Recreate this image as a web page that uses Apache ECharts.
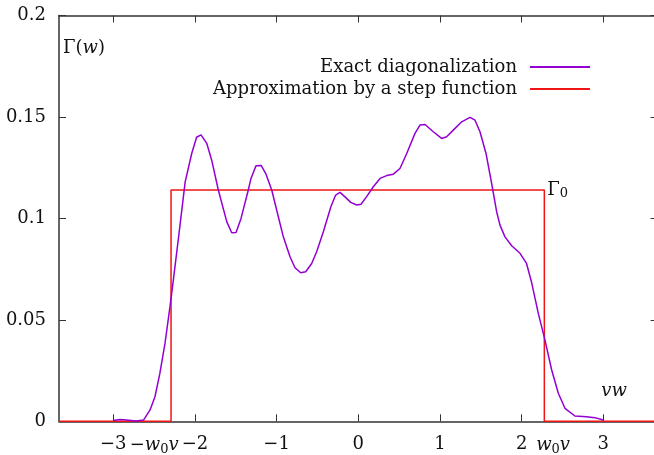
<!DOCTYPE html>
<html>
<head>
<meta charset="utf-8">
<script src="https://cdn.jsdelivr.net/npm/echarts@6/dist/echarts.min.js"></script>
<style>
html,body{margin:0;padding:0;background:#fff;}
#chart{width:654px;height:455px;}
</style>
</head>
<body>
<div id="chart"></div>
<script>
// ---- data ----
const exactX = [-3.00,-2.92,-2.84,-2.72,-2.63,-2.55,-2.49,-2.43,-2.367,-2.306,-2.265,-2.20,-2.12,-2.04,-1.98,-1.926,-1.856,-1.795,-1.714,-1.61,-1.55,-1.497,-1.436,-1.347,-1.314,-1.253,-1.19,-1.13,-1.06,-0.999,-0.918,-0.836,-0.775,-0.705,-0.644,-0.571,-0.51,-0.428,-0.334,-0.277,-0.224,-0.163,-0.093,-0.02,0.033,0.10,0.184,0.266,0.348,0.429,0.51,0.593,0.694,0.755,0.817,0.918,1.02,1.082,1.163,1.266,1.368,1.429,1.49,1.564,1.633,1.694,1.735,1.796,1.878,1.98,2.06,2.12,2.204,2.286,2.368,2.449,2.531,2.653,2.796,2.898,3.00];
const exactY = [0.0004,0.0009,0.0006,0.0001,0.0006,0.0056,0.0121,0.0236,0.0384,0.0565,0.0696,0.091,0.118,0.132,0.140,0.1412,0.137,0.1287,0.114,0.0983,0.0929,0.0931,0.100,0.114,0.1197,0.1259,0.1261,0.1218,0.114,0.104,0.0909,0.0811,0.0757,0.0732,0.0737,0.0778,0.0836,0.0934,0.106,0.1115,0.1128,0.1106,0.1079,0.1066,0.107,0.1106,0.1156,0.1197,0.1211,0.1218,0.1246,0.132,0.1419,0.146,0.1463,0.1427,0.1394,0.1402,0.1435,0.1476,0.1498,0.1484,0.1427,0.132,0.1172,0.1033,0.0967,0.0909,0.0865,0.0828,0.0778,0.0688,0.0532,0.040,0.0253,0.0138,0.0064,0.0026,0.0023,0.0018,0.0006];
const gamma0 = 0.114;
const w0vLeft = -2.293;
const w0vRight = 2.278;
const xMin = -3.665, xMax = 3.665;
const stepX = [xMin, w0vLeft, w0vLeft, w0vRight, w0vRight, xMax];
const stepY = [0, 0, gamma0, gamma0, 0, 0];
const xTicks = [-3,-2,-1,0,1,2,3];
const xSpecialLabelPos = [-2.50, 2.385];
const yTicks = [0, 0.05, 0.1, 0.15, 0.2];
const seriesNames = ['Exact diagonalization', 'Approximation by a step function'];

// ---- chart ----
const FONT = 'DejaVu Serif';
const FS = 18;
const chart = echarts.init(document.getElementById('chart'), null, {renderer:'canvas'});
const rich = {
  i: {fontFamily: FONT, fontStyle: 'italic', fontSize: FS, color: '#111'},
  s: {fontFamily: FONT, fontSize: 13, color: '#111', padding: [8,0,0,0]}
};
function xLabel(v) {
  const r = Math.round(v*1000)/1000;
  if (Math.abs(r - xSpecialLabelPos[0]) < 1e-6) return '−{i|w}{s|0}{i|v}';
  if (Math.abs(r - xSpecialLabelPos[1]) < 1e-6) return '{i|w}{s|0}{i|v}';
  return (r < 0 ? '−' : '') + Math.abs(r);
}
const axisLine = {show:true, onZero:false, lineStyle:{color:'#333', width:1.5}};
const tick = {show:true, inside:true, length:7, lineStyle:{color:'#333', width:1}};
const txtMark = (coord, fmt, pos, dist) => ({
  coord, symbol:'circle', symbolSize:0, itemStyle:{color:'transparent'},
  label:{show:true, position:pos, distance:dist, formatter:fmt, fontFamily:FONT, fontSize:FS, color:'#111', rich}
});
chart.setOption({
  animation:false,
  backgroundColor:'#fff',
  grid:{left:59, top:15.5, width:598.6, height:405.8, containLabel:false, outerBoundsMode:'none'},
  xAxis:[{
    type:'value', min:xMin, max:xMax, position:'bottom',
    axisLine, splitLine:{show:false},
    axisTick:Object.assign({customValues:xTicks}, tick),
    axisLabel:{customValues:xTicks.concat(xSpecialLabelPos), formatter:xLabel, fontFamily:FONT, fontSize:FS, color:'#111', margin:14, rich}
  },{
    type:'value', min:xMin, max:xMax, position:'top',
    axisLine, splitLine:{show:false},
    axisTick:Object.assign({customValues:xTicks}, tick),
    axisLabel:{show:false}
  }],
  yAxis:[{
    type:'value', min:0, max:0.2, interval:0.05, position:'left',
    axisLine, splitLine:{show:false}, axisTick:tick,
    axisLabel:{formatter:v=>String(+v.toFixed(2)), fontFamily:FONT, fontSize:FS, color:'#111', margin:13}
  },{
    type:'value', min:0, max:0.2, interval:0.05, position:'right',
    axisLine, splitLine:{show:false}, axisTick:tick, axisLabel:{show:false}
  }],
  legend:{
    orient:'vertical', align:'right', right:58, top:51,
    itemWidth:60, itemHeight:22, itemGap:0,
    itemStyle:{opacity:0},
    textStyle:{fontFamily:FONT, fontSize:FS, color:'#111', padding:[0,8,0,0], lineHeight:22},
    data:seriesNames
  },
  series:[{
    name:seriesNames[0], type:'line', showSymbol:false, symbol:'none',
    lineStyle:{color:'#9400d3', width:1.5}, itemStyle:{color:'#9400d3'},
    data:exactX.map((x,i)=>[x, exactY[i]]), z:3,
    markPoint:{silent:true, animation:false, data:[
      txtMark([2.975, 0.015], '{i|vw}', 'right', 0),
      txtMark([xMin, 0.184], 'Γ({i|w})', 'right', 4)
    ]}
  },{
    name:seriesNames[1], type:'line', showSymbol:false, symbol:'none',
    lineStyle:{color:'#f01515', width:1.5}, itemStyle:{color:'#f01515'},
    data:stepX.map((x,i)=>[x, stepY[i]]), z:2,
    markPoint:{silent:true, animation:false, data:[
      txtMark([w0vRight, gamma0], 'Γ{s|0}', 'right', 3)
    ]}
  }]
});
</script>
</body>
</html>
